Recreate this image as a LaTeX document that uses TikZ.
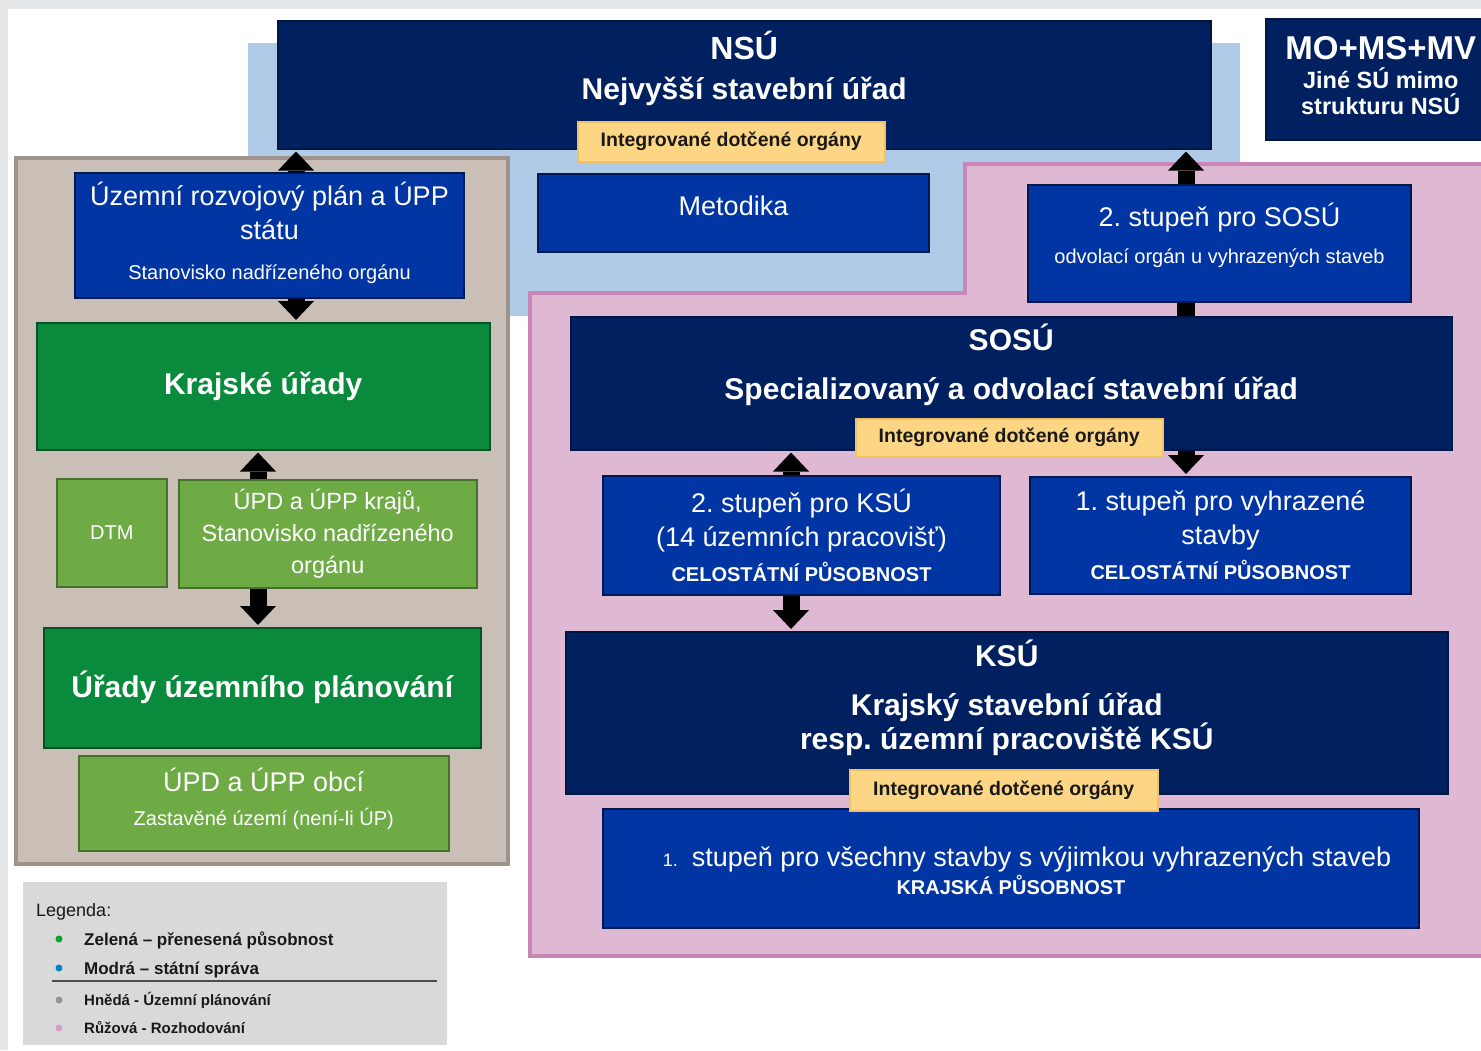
\documentclass[tikz,border=0pt]{standalone}
\usepackage{fontspec}
\setmainfont{Liberation Sans}
\usetikzlibrary{positioning,arrows.meta}
\frenchspacing

\definecolor{navy}{HTML}{002060}
\definecolor{royal}{HTML}{0035A3}
\definecolor{krgreen}{HTML}{098A3C}
\definecolor{ltgreen}{HTML}{6EAB45}
\definecolor{tanfill}{HTML}{C9BFB6}
\definecolor{tanline}{HTML}{9E928B}
\definecolor{pinkfill}{HTML}{DFB9D4}
\definecolor{pinkline}{HTML}{C986B6}
\definecolor{skyfill}{HTML}{AFCBE8}
\definecolor{idofill}{HTML}{FDD685}
\definecolor{idoline}{HTML}{F0C264}
\definecolor{legfill}{HTML}{D9D9D9}
\definecolor{framegray}{HTML}{E6E7E9}

\newcommand{\fsbig}{\fontsize{27}{34}\selectfont}
\newcommand{\fsmid}{\fontsize{23.5}{32}\selectfont}
\newcommand{\fssmall}{\fontsize{20}{24}\selectfont}
\newcommand{\fshead}{\fontsize{30}{36}\selectfont\bfseries}

\tikzset{
  box/.style={draw, anchor=north west, inner sep=0pt, align=center, text=white, line width=1.5pt},
  navybox/.style={box, fill=navy, draw=navy!70!black},
  bluebox/.style={box, fill=royal, draw=navy!80!black, line width=2pt},
  greenbox/.style={box, fill=krgreen, draw=krgreen!60!black},
  lightbox/.style={box, fill=ltgreen, draw=ltgreen!65!black},
  idobox/.style={draw=idoline, fill=idofill, line width=1.5pt, anchor=north west, inner sep=0pt,
    font=\fontsize{19.5}{24}\selectfont\bfseries, text=black!90},
  boxtext/.style={inner sep=0pt, align=center, text=white},
  bigarrow/.style={line width=17pt, shorten >=2pt, -{Triangle[width=36pt,length=19pt,line width=0pt]}},
  legtext/.style={anchor=base west, inner sep=0pt, text=black!90},
  legdot/.style={circle, inner sep=0pt, minimum size=7pt},
}

\begin{document}
\begin{tikzpicture}[x=1pt,y=-1pt]
  \useasboundingbox (0,0) rectangle (1481,1050);
  % areas
  \fill[framegray] (0,0) rectangle (1481,1050);
  \fill[white] (8,9) rectangle (1481,1050);
  \fill[skyfill] (248,43) rectangle (1240,316);
  \draw[tanline, fill=tanfill, line width=4pt] (16,158) rectangle (508,864);
  \draw[pinkline, fill=pinkfill, line width=4pt] (530,293) -- (965,293) -- (965,164) -- (1495,164)
    -- (1495,956) -- (530,956) -- cycle;

  % NSU
  \node[navybox, minimum width=933pt, minimum height=128pt] (nsu) at (277,20) {};
  \node[boxtext, font=\fontsize{30}{40}\selectfont\bfseries, below=11pt of nsu.north] (nsutext)
    {\fontsize{32}{40}\selectfont NSÚ\\Nejvyšší stavební úřad};
  \node[idobox, minimum width=307pt, minimum height=40pt] (nsuido) at (577,121) {Integrované dotčené orgány};
  \node[navybox, minimum width=230pt, minimum height=121pt] (mo) at (1265,18) {};
  \node[boxtext, font=\fontsize{23.5}{26}\selectfont\bfseries, below=18pt of mo.north] (motext)
    {\fontsize{33}{33}\selectfont MO+MS+MV\\[3pt]Jiné SÚ mimo\\strukturu NSÚ};
  \node[bluebox, minimum width=391pt, minimum height=78pt] (metodika) at (537,173) {};
  \node[boxtext, font=\fsbig, below=23pt of metodika.north] (metodikatext) {Metodika};

  % uzemni planovani
  \node[bluebox, minimum width=389pt, minimum height=125pt] (urp) at (74,172) {};
  \node[boxtext, font=\fsbig, below=10pt of urp.north] (urptext)
    {Územní rozvojový plán a ÚPP\\státu\\[6pt]\fssmall Stanovisko nadřízeného orgánu};
  \node[greenbox, minimum width=453pt, minimum height=127pt, font=\fshead] (kraje) at (36,322) {Krajské úřady};
  \node[lightbox, minimum width=110pt, minimum height=108pt, font=\fssmall] (dtm) at (56,478) {DTM};
  \node[lightbox, minimum width=298pt, minimum height=108pt, font=\fsmid] (kraju) at (178,479)
    {ÚPD a ÚPP krajů,\\Stanovisko nadřízeného\\orgánu};
  \node[greenbox, minimum width=437pt, minimum height=120pt, font=\fshead] (uup) at (43,627) {Úřady územního plánování};
  \node[lightbox, minimum width=370pt, minimum height=95pt] (obci) at (78,755) {};
  \node[boxtext, font=\fontsize{27}{34}\selectfont, below=13pt of obci.north] (obcitext)
    {ÚPD a ÚPP obcí\\\fssmall Zastavěné území (není-li ÚP)};

  % rozhodovani
  \node[bluebox, minimum width=383pt, minimum height=117pt] (sosu2) at (1027,184) {};
  \node[boxtext, font=\fontsize{27}{37}\selectfont, below=19pt of sosu2.north] (sosu2text)
    {2. stupeň pro SOSÚ\\\fssmall odvolací orgán u vyhrazených staveb};
  \node[navybox, minimum width=881pt, minimum height=133pt] (sosu) at (570,316) {};
  \node[boxtext, font=\fontsize{30}{49}\selectfont\bfseries, below=8pt of sosu.north] (sosutext)
    {SOSÚ\\Specializovaný a odvolací stavební úřad};
  \node[idobox, minimum width=307pt, minimum height=38pt] (sosuido) at (855,418) {Integrované dotčené orgány};
  \node[bluebox, minimum width=397pt, minimum height=119pt, font=\fsbig] (ksu2) at (602,475)
    {2. stupeň pro KSÚ\\(14 územních pracovišť)\\[1pt]\fssmall\bfseries CELOSTÁTNÍ PŮSOBNOST};
  \node[bluebox, minimum width=381pt, minimum height=117pt, font=\fsbig] (vyhr) at (1029,476)
    {1. stupeň pro vyhrazené\\stavby\\[1pt]\fssmall\bfseries CELOSTÁTNÍ PŮSOBNOST};
  \node[navybox, minimum width=882pt, minimum height=162pt] (ksu) at (565,631) {};
  \node[boxtext, font=\fontsize{30}{34}\selectfont\bfseries, below=9pt of ksu.north] (ksutext)
    {KSÚ\\[15pt]Krajský stavební úřad\\resp. územní pracoviště KSÚ};
  \node[bluebox, minimum width=816pt, minimum height=119pt] (kraj1) at (602,808) {};
  \node[boxtext, font=\fontsize{27}{28}\selectfont, below=38pt of kraj1.north] (kraj1text)
    {\hspace*{32pt}{\fontsize{18}{18}\selectfont 1.}\hspace{14pt}stupeň pro všechny stavby s výjimkou vyhrazených staveb\\\fssmall\bfseries KRAJSKÁ PŮSOBNOST};
  \node[idobox, minimum width=308pt, minimum height=41pt] (ksuido) at (849,769) {Integrované dotčené orgány};

  % sipky
  \coordinate (xurp) at (296,0);
  \coordinate (xkraj) at (258,0);
  \coordinate (xsosu) at (1186,0);
  \coordinate (xksu) at (791,0);
  \draw[bigarrow] (urp.north -| xurp) -- (nsu.south -| xurp);
  \draw[bigarrow] (urp.south -| xurp) -- (kraje.north -| xurp);
  \draw[bigarrow] (kraju.north -| xkraj) -- (kraje.south -| xkraj);
  \draw[bigarrow] (kraju.south -| xkraj) -- (uup.north -| xkraj);
  \draw[bigarrow] (sosu2.north -| xsosu) -- (nsu.south -| xsosu);
  \draw[line width=18pt] (sosu2.south -| xsosu) -- (sosu.north -| xsosu);
  \draw[bigarrow] (sosu.south -| xsosu) -- (vyhr.north -| xsosu);
  \draw[bigarrow] (ksu2.north -| xksu) -- (sosu.south -| xksu);
  \draw[bigarrow] (ksu2.south -| xksu) -- (ksu.north -| xksu);

  % legenda
  \node[fill=legfill, anchor=north west, inner sep=0pt, minimum width=424pt, minimum height=163pt] (legend) at (23,882) {};
  \node[legtext, font=\fontsize{18}{20}\selectfont] (legtitle) at (36,916) {Legenda:};
  \node[legdot, fill=krgreen!80!green] (dotz) at (59,939) {};
  \node[legtext, font=\fontsize{17}{20}\selectfont\bfseries] (legz) at (84,945) {Zelená – přenesená působnost};
  \node[legdot, fill=royal!60!cyan] (dotm) at (59,968) {};
  \node[legtext, font=\fontsize{17}{20}\selectfont\bfseries] (legm) at (84,974) {Modrá – státní správa};
  \draw[line width=1.5pt, black!70] (52,981) -- (437,981);
  \node[legdot, fill=tanline] (doth) at (59,1000) {};
  \node[legtext, font=\fontsize{15}{18}\selectfont\bfseries] (legh) at (84,1005) {Hnědá - Územní plánování};
  \node[legdot, fill=pinkline!80!white] (dotr) at (59,1028) {};
  \node[legtext, font=\fontsize{15}{18}\selectfont\bfseries] (legr) at (84,1033) {Růžová - Rozhodování};
\end{tikzpicture}
\end{document}
